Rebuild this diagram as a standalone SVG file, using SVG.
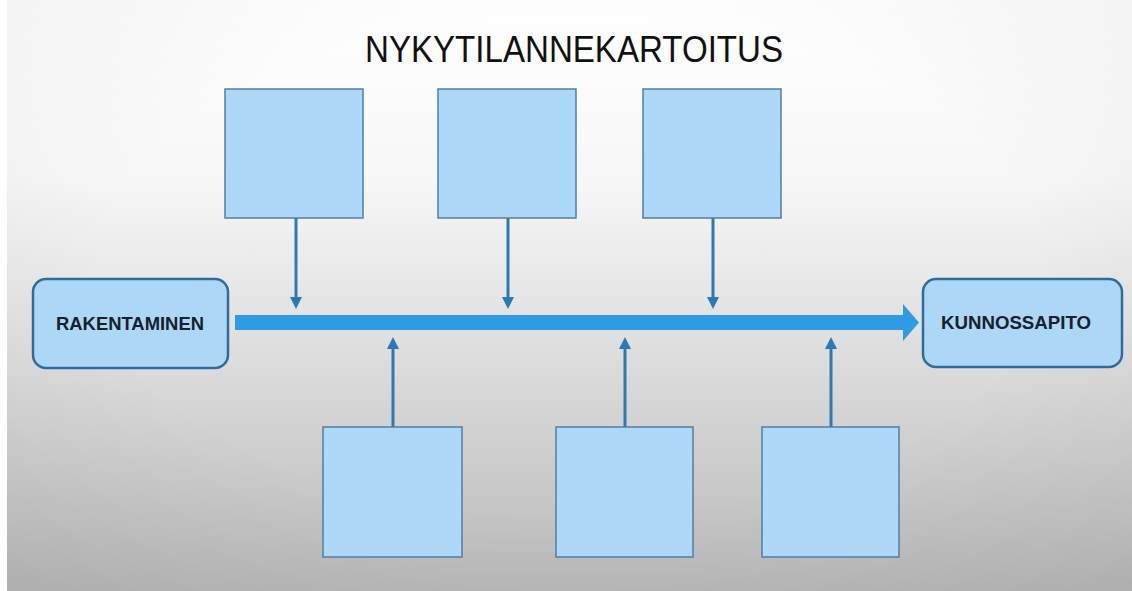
<svg xmlns="http://www.w3.org/2000/svg" width="1132" height="591" viewBox="0 0 1132 591">
  <defs>
    <linearGradient id="bg" x1="0" y1="0" x2="0" y2="1">
      <stop offset="0" stop-color="#ffffff"/>
      <stop offset="0.3" stop-color="#f7f7f7"/>
      <stop offset="0.6" stop-color="#dddddd"/>
      <stop offset="1" stop-color="#b9b9b9"/>
    </linearGradient>
    <radialGradient id="vignette" cx="0.5" cy="0.45" r="0.75">
      <stop offset="0.55" stop-color="#000000" stop-opacity="0"/>
      <stop offset="1" stop-color="#000000" stop-opacity="0.06"/>
    </radialGradient>
    <marker id="tip" viewBox="0 0 10 10" refX="5" refY="5" markerWidth="4" markerHeight="4" orient="auto" markerUnits="strokeWidth">
      <path d="M0,0 L10,5 L0,10 Z" fill="#2b79b5"/>
    </marker>
    <style>
      .box { fill: #aed8f7; stroke: #4f7fa6; stroke-width: 1.5; }
      .end { fill: #acd7f6; stroke: #2e6c9c; stroke-width: 2.5; }
      .feed { stroke: #2b79b5; stroke-width: 3; fill: none; marker-end: url(#tip); }
      .label { font-family: "Liberation Sans", Arial, sans-serif; font-weight: bold; font-size: 19px; fill: #17202e; text-anchor: middle; }
      .title { font-family: "Liberation Sans", Arial, sans-serif; font-size: 36px; fill: #111111; text-anchor: middle; }
    </style>
  </defs>

  <!-- backdrop -->
  <rect x="0" y="0" width="1132" height="591" fill="#ffffff"/>
  <rect x="7" y="0" width="1125" height="591" fill="url(#bg)"/>
  <rect x="7" y="0" width="1125" height="591" fill="url(#vignette)"/>

  <text class="title" x="574" y="62" textLength="418" lengthAdjust="spacingAndGlyphs">NYKYTILANNEKARTOITUS</text>

  <!-- connectors -->
  <g id="connectors">
    <path id="spine" d="M235,315 L903,315 L903,304 L919,322.5 L903,341 L903,330 L235,330 Z" fill="#2e9be2"/>
    <line class="feed" x1="296" y1="218" x2="296" y2="303"/>
    <line class="feed" x1="508" y1="218" x2="508" y2="303"/>
    <line class="feed" x1="713" y1="218" x2="713" y2="303"/>
    <line class="feed" x1="393" y1="427" x2="393" y2="343"/>
    <line class="feed" x1="625" y1="427" x2="625" y2="343"/>
    <line class="feed" x1="831" y1="427" x2="831" y2="343"/>
  </g>

  <g id="start">
    <rect class="end" x="33" y="279" width="195" height="89" rx="13"/>
    <text class="label" x="130" y="330" textLength="148" lengthAdjust="spacingAndGlyphs">RAKENTAMINEN</text>
  </g>
  <g id="finish">
    <rect class="end" x="923" y="279" width="199" height="88" rx="13"/>
    <text class="label" x="1016" y="329" textLength="150" lengthAdjust="spacingAndGlyphs">KUNNOSSAPITO</text>
  </g>

  <g id="top1"><rect class="box" x="225" y="89" width="138" height="129"/></g>
  <g id="top2"><rect class="box" x="438" y="89" width="138" height="129"/></g>
  <g id="top3"><rect class="box" x="643" y="89" width="138" height="129"/></g>
  <g id="bottom1"><rect class="box" x="323" y="427" width="139" height="130"/></g>
  <g id="bottom2"><rect class="box" x="556" y="427" width="137" height="130"/></g>
  <g id="bottom3"><rect class="box" x="762" y="427" width="137" height="130"/></g>
</svg>
